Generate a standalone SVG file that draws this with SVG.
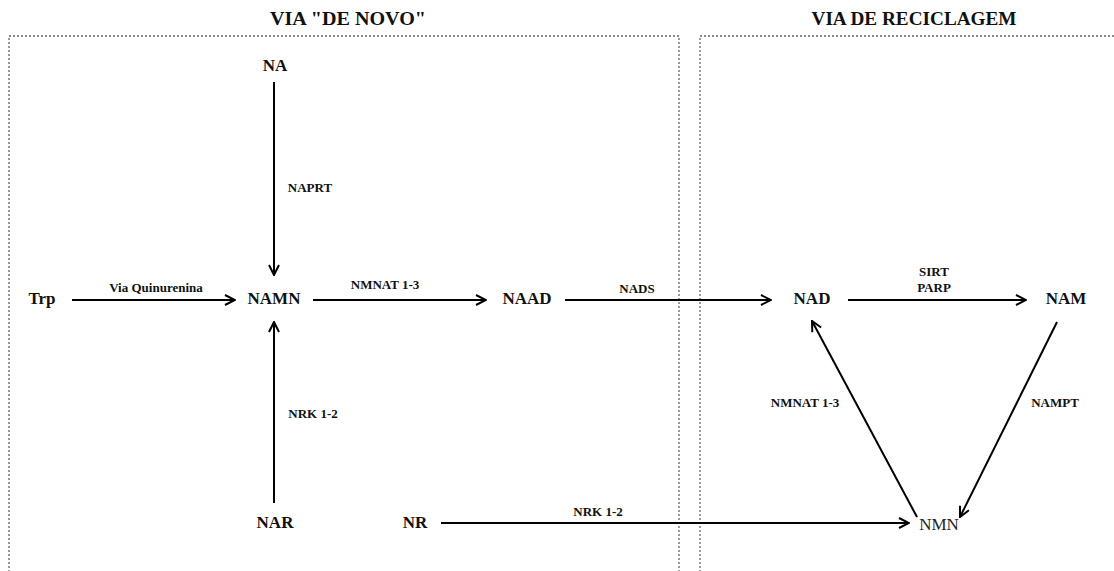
<svg xmlns="http://www.w3.org/2000/svg" width="1114" height="571" viewBox="0 0 1114 571">
<defs>
<marker id="ah" viewBox="0 0 12 12" refX="11" refY="6" markerWidth="12" markerHeight="12" markerUnits="userSpaceOnUse" orient="auto">
<path d="M1,1 L11,6 L1,11" fill="none" stroke="#000" stroke-width="2"/>
</marker>
<style>
.node{font-family:"Liberation Serif","Times New Roman",serif;font-weight:bold;font-size:17px;fill:#111;text-anchor:middle;dominant-baseline:central}
.lbl{font-family:"Liberation Serif","Times New Roman",serif;font-weight:bold;font-size:13px;fill:#111;text-anchor:middle;dominant-baseline:central}
.title{font-family:"Liberation Serif","Times New Roman",serif;font-weight:bold;font-size:19px;fill:#111;text-anchor:middle}
.box{fill:none;stroke:#666;stroke-width:1.3;stroke-dasharray:2,2}
.edge{fill:none;stroke:#000;stroke-width:2;marker-end:url(#ah)}
</style>
</defs>
<rect width="1114" height="571" fill="#fff"/>
<g id="regions">
<path class="box" d="M9,580 L9,36 L679,36 L679,580"/>
<path class="box" d="M700,580 L700,36 L1120,36"/>
<text class="title" x="348" y="25" textLength="156" lengthAdjust="spacingAndGlyphs">VIA "DE NOVO"</text>
<text class="title" x="914" y="25" textLength="205" lengthAdjust="spacingAndGlyphs">VIA DE RECICLAGEM</text>
</g>
<g id="connectors">
<line class="edge" x1="72" y1="300" x2="235" y2="300"/>
<line class="edge" x1="274" y1="82" x2="274" y2="275"/>
<line class="edge" x1="274" y1="503" x2="274" y2="322"/>
<line class="edge" x1="313" y1="300" x2="486" y2="300"/>
<line class="edge" x1="565" y1="300" x2="771" y2="300"/>
<line class="edge" x1="848" y1="300" x2="1026" y2="300"/>
<line class="edge" x1="1057" y1="322" x2="960" y2="517"/>
<line class="edge" x1="917" y1="517" x2="812" y2="321"/>
<line class="edge" x1="441" y1="523" x2="909" y2="523"/>
<text class="lbl" x="156" y="287">Via Quinurenina</text>
<text class="lbl" x="385" y="284">NMNAT 1-3</text>
<text class="lbl" x="637" y="288">NADS</text>
<text class="lbl" x="934" y="271">SIRT</text>
<text class="lbl" x="934" y="287">PARP</text>
<text class="lbl" x="310" y="187">NAPRT</text>
<text class="lbl" x="313" y="413">NRK 1-2</text>
<text class="lbl" x="598" y="511">NRK 1-2</text>
<text class="lbl" x="805" y="402">NMNAT 1-3</text>
<text class="lbl" x="1055" y="402">NAMPT</text>
</g>
<g id="n-trp"><text class="node" x="42" y="298">Trp</text></g>
<g id="n-na"><text class="node" x="275" y="65">NA</text></g>
<g id="n-namn"><text class="node" x="274" y="298">NAMN</text></g>
<g id="n-naad"><text class="node" x="527" y="298">NAAD</text></g>
<g id="n-nad"><text class="node" x="812" y="298">NAD</text></g>
<g id="n-nam"><text class="node" x="1066" y="298">NAM</text></g>
<g id="n-nar"><text class="node" x="275" y="522">NAR</text></g>
<g id="n-nr"><text class="node" x="415" y="522">NR</text></g>
<g id="n-nmn"><text class="node" x="939" y="524" style="font-weight:normal;fill:#222">NMN</text></g>
</svg>
